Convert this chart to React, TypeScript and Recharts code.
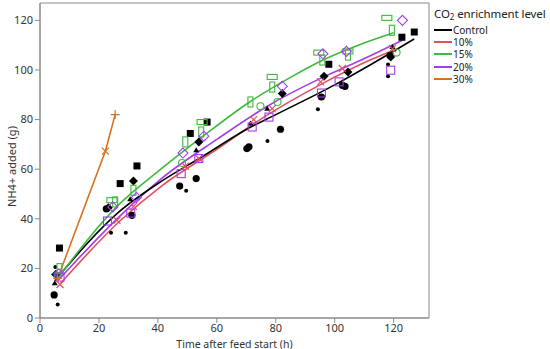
import { ComposedChart, Label, Line, ReferenceArea, Scatter, XAxis, YAxis } from "recharts"

// fitted curves (time h, NH4+ g)
const controlFit = [[5, 15], [27, 43], [41, 55], [55, 65], [70, 76], [80, 82], [100, 94], [112, 102], [127, 112.5]]
const fit10 = [[7, 14], [27, 39], [41, 53], [60, 68], [76, 81], [95, 94], [112, 104], [120, 108]]
const fit15 = [[6, 16], [27, 46], [41, 60], [55, 73], [71, 87], [85, 97], [96, 104], [108, 110], [120, 115]]
const fit20 = [[6, 15], [27, 41], [41, 56], [60, 72], [78, 86], [95, 96.5], [109, 104], [123, 112]]
const fit30 = [[6, 16], [22.2, 67.3], [25.5, 82]]

// measured points
const ctrlSquares = [[6.6, 28.2], [27.2, 54.2], [32.9, 61.3], [51, 74.4], [56.7, 79], [98, 102.3], [122.8, 113.2], [127, 115.3]]
const ctrlDiamonds = [[5.3, 17.5], [23.2, 44.4], [31.7, 55.2], [53.9, 71], [82.2, 90.5], [96.4, 97.5], [104.5, 99.2], [119, 105.2]]
const ctrlCircles = [[4.8, 9.3], [22.5, 44], [31.2, 41.4], [47.4, 53.2], [53, 56.2], [70.9, 69], [70.2, 68.3], [81.6, 76.1], [95.5, 89.1], [103.5, 93.4], [102.6, 93.8], [118.8, 105.9]]
const ctrlDots = [[6, 5.4], [5.2, 20.6], [24.1, 34.4], [29.1, 34.4], [49.6, 51.3], [77.2, 71.4], [94.3, 84.2], [118.1, 102.2], [118.1, 97.5]]
const ctrlTriangles = [[5, 14], [30.6, 47.9], [53, 67.6], [71.4, 78.4], [77.1, 84.4], [119.6, 109.3]]

const g15Wide = [[24.4, 47.5], [55, 79], [78.8, 97.2], [94.6, 107], [104.5, 107.5], [117.7, 121]]
const g15Tall = [[6.6, 19.9], [25.5, 46.8], [31.7, 51.5], [49.3, 71], [54.7, 75], [71.4, 87.1], [78.8, 93.1], [95.8, 104], [104.5, 106], [119.4, 116]]
const g15Circles = [[6, 17], [48.2, 62.5], [74.8, 85.4], [80.6, 87.1], [121, 107]]

const p20Squares = [[6.8, 16.5], [22.9, 39.1], [30.8, 42.3], [47.9, 58.2], [53.9, 64.3], [72, 77], [77.7, 81], [95.5, 90.7], [101.5, 95.2], [119, 99.9]]
const p20Diamonds = [[6.4, 17.8], [24.7, 44.8], [32.7, 48.6], [48.5, 66.5], [55.6, 73.3], [82.2, 93.4], [96, 106.5], [104, 107.5], [123, 120]]

const r10Crosses = [[6.8, 13.5], [26.1, 39.4], [31.7, 45], [49.3, 61.2], [53.9, 64.3], [72.5, 80], [78.8, 84.4], [95.2, 95.2], [102.6, 100.6], [119.6, 108.6]]

const o30Plus = [[6, 16], [25.5, 82]]
const o30Cross = [[22.2, 67.3]]

const xTicks = [0, 20, 40, 60, 80, 100, 120]
const yTicks = [0, 20, 40, 60, 80, 100, 120]

const legendItems = [
  { name: "Control", color: "#000000" },
  { name: "10%", color: "#e2505f" },
  { name: "15%", color: "#3fb83f" },
  { name: "20%", color: "#a53cec" },
  { name: "30%", color: "#d5731f" },
]

const toPts = (arr: number[][]) => arr.map(([t, v]) => ({ t, v }))

const FONT = "'Noto Sans', 'Open Sans', sans-serif"

const marker = (kind: string, color: string) => (p: any) => {
  const { cx, cy } = p
  if (cx == null || cy == null) return <g />
  switch (kind) {
    case "sqF":
      return <rect x={cx - 3.5} y={cy - 3.5} width={7} height={7} fill={color} />
    case "diaF":
      return <polygon points={`${cx},${cy - 4.5} ${cx + 4.5},${cy} ${cx},${cy + 4.5} ${cx - 4.5},${cy}`} fill={color} />
    case "cirF":
      return <circle cx={cx} cy={cy} r={3.6} fill={color} />
    case "dot":
      return <circle cx={cx} cy={cy} r={2} fill={color} />
    case "triF":
      return <polygon points={`${cx},${cy - 3} ${cx + 3},${cy + 2} ${cx - 3},${cy + 2}`} fill={color} />
    case "rectW":
      return <rect x={cx - 5} y={cy - 2.5} width={10} height={5} fill="none" stroke={color} strokeWidth={1.1} />
    case "rectT":
      return <rect x={cx - 2.5} y={cy - 5} width={5} height={10} fill="none" stroke={color} strokeWidth={1.1} />
    case "cirO":
      return <circle cx={cx} cy={cy} r={3.5} fill="none" stroke={color} strokeWidth={1.1} />
    case "sqO":
      return <rect x={cx - 4} y={cy - 4} width={8} height={8} fill="none" stroke={color} strokeWidth={1.1} />
    case "diaO":
      return <polygon points={`${cx},${cy - 5} ${cx + 5},${cy} ${cx},${cy + 5} ${cx - 5},${cy}`} fill="none" stroke={color} strokeWidth={1.1} />
    case "x":
      return (
        <path d={`M${cx - 3.5},${cy - 3.5}L${cx + 3.5},${cy + 3.5}M${cx - 3.5},${cy + 3.5}L${cx + 3.5},${cy - 3.5}`} stroke={color} strokeWidth={1.2} />
      )
    case "plus":
      return <path d={`M${cx - 4.5},${cy}L${cx + 4.5},${cy}M${cx},${cy - 4.5}L${cx},${cy + 4.5}`} stroke={color} strokeWidth={1.2} />
  }
  return <g />
}

const [cBlack, c10, c15, c20, c30] = legendItems.map((d) => d.color)

const scatters: [number[][], string, string][] = [
  [ctrlCircles, "cirF", cBlack],
  [ctrlDots, "dot", cBlack],
  [ctrlSquares, "sqF", cBlack],
  [ctrlDiamonds, "diaF", cBlack],
  [ctrlTriangles, "triF", cBlack],
  [g15Wide, "rectW", c15],
  [g15Tall, "rectT", c15],
  [g15Circles, "cirO", c15],
  [p20Squares, "sqO", c20],
  [p20Diamonds, "diaO", c20],
  [r10Crosses, "x", c10],
  [o30Plus, "plus", c30],
  [o30Cross, "x", c30],
]

const fits: [number[][], string, "monotone" | "linear"][] = [
  [fit30, c30, "linear"],
  [fit10, c10, "monotone"],
  [fit20, c20, "monotone"],
  [controlFit, cBlack, "monotone"],
  [fit15, c15, "monotone"],
]

export default function App() {
  return (
    <div style={{ position: "relative", width: 550, height: 349, background: "#fff", fontFamily: FONT }}>
      <style>{"body{margin:0}"}</style>
      <ComposedChart width={550} height={349} margin={{ top: 3, right: 121, bottom: 0, left: 0 }}>
        <XAxis
          type="number"
          dataKey="t"
          domain={[0, 132]}
          ticks={xTicks}
          allowDataOverflow
          height={31}
          tickSize={5}
          tickMargin={1}
          stroke="#8a8a8a"
          tick={{ fill: "#333", fontSize: 11, fontFamily: FONT }}
        >
          <Label value="Time after feed start (h)" position="insideBottom" offset={1.5} style={{ fill: "#333", fontSize: 10.5, fontFamily: FONT }} />
        </XAxis>
        <YAxis
          type="number"
          dataKey="v"
          domain={[0, 127]}
          ticks={yTicks}
          allowDataOverflow
          width={40}
          tickSize={5}
          stroke="#8a8a8a"
          tick={{ fill: "#333", fontSize: 11, fontFamily: FONT }}
        >
          <Label
            content={(p: any) => {
              const vb = p.viewBox || {}
              const cx = 11
              const cy = (vb.y ?? 3) + (vb.height ?? 314) / 2 + 6
              return (
                <text x={cx} y={cy} transform={`rotate(-90 ${cx} ${cy})`} textAnchor="middle" dominantBaseline="central" fill="#333" fontSize={11} fontFamily={FONT}>
                  NH4+ added (g)
                </text>
              )
            }}
          />
        </YAxis>
        <ReferenceArea x1={0} x2={132} y1={0} y2={127} fill="none" stroke="#8a8a8a" strokeWidth={1} ifOverflow="visible" />
        {scatters.map(([pts, kind, color], i) => (
          <Scatter key={`s-${i}`} data={toPts(pts)} shape={marker(kind, color)} isAnimationActive={false} />
        ))}
        {fits.map(([pts, color, kind], i) => (
          <Line
            key={`l-${i}`}
            data={toPts(pts)}
            dataKey="v"
            type={kind}
            stroke={color}
            strokeWidth={1.6}
            dot={false}
            activeDot={false}
            isAnimationActive={false}
          />
        ))}
      </ComposedChart>
      <div style={{ position: "absolute", left: 434, top: 6, color: "#222", fontFamily: FONT, whiteSpace: "nowrap" }}>
        <div style={{ fontSize: 11.5, lineHeight: "16px", marginBottom: 1.5, letterSpacing: -0.1 }}>
          CO<sub style={{ fontSize: 8, lineHeight: 0, verticalAlign: "-2px" }}>2</sub> enrichment level
        </div>
        {legendItems.map((it) => (
          <div key={it.name} style={{ display: "flex", alignItems: "center", height: 12.4, fontSize: 10, lineHeight: "12px" }}>
            <span style={{ display: "inline-block", width: 18, height: 2, background: it.color, marginRight: 1 }} />
            <span style={{ lineHeight: "12px" }}>{it.name}</span>
          </div>
        ))}
      </div>
    </div>
  )
}
